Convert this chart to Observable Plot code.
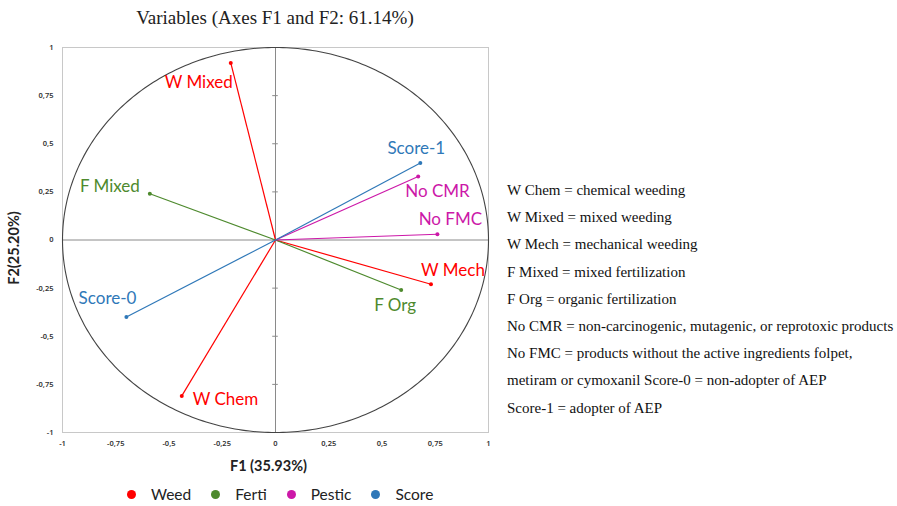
<!DOCTYPE html>
<html>
<head>
<meta charset="utf-8">
<script src="https://cdn.jsdelivr.net/npm/d3@7"></script>
<script src="https://cdn.jsdelivr.net/npm/@observablehq/plot@0.6"></script>
<style>
  html, body { margin: 0; padding: 0; background: #fff; }
  #wrap { position: relative; width: 897px; height: 506px; overflow: hidden; }
  #title { position: absolute; left: 62px; width: 426px; top: 7px; text-align: center;
           font-family: "Liberation Serif", "DejaVu Serif", serif; font-size: 19px; color: #222; }
  #defs { position: absolute; left: 507px; top: 177px; font-family: "Liberation Serif", serif;
          font-size: 15px; line-height: 27.2px; color: #111; white-space: nowrap; }
  #legend { position: absolute; left: 117px; top: 485px; display: flex; justify-content: flex-start;
            font-family: Lato, "Open Sans", sans-serif; font-size: 15.5px; line-height: 18px; color: #222; }
  #legend .item { display: flex; align-items: center; margin: 0 10px; }
  #legend .sw { width: 9px; height: 9px; border-radius: 50%; margin-right: 15px; }
</style>
</head>
<body>
<div id="wrap">
  <div id="chart"></div>
  <div id="title">Variables (Axes F1 and F2: 61.14%)</div>
  <div id="defs"></div>
  <div id="legend"></div>
</div>
<script>
// Variable coordinates on the first two factorial axes
const variables = ["W Chem", "W Mixed", "W Mech", "F Mixed", "F Org", "No CMR", "No FMC", "Score-0", "Score-1"];
const groups    = ["Weed", "Weed", "Weed", "Ferti", "Ferti", "Pestic", "Pestic", "Score", "Score"];
const f1        = [-0.44, -0.21, 0.73, -0.59, 0.59, 0.67, 0.76, -0.70, 0.68];
const f2        = [-0.81, 0.92, -0.23, 0.24, -0.26, 0.33, 0.03, -0.40, 0.40];

const groupNames = ["Weed", "Ferti", "Pestic", "Score"];
const tickValues = [-1, -0.75, -0.5, -0.25, 0, 0.25, 0.5, 0.75, 1];

const definitions = [
  "W Chem = chemical weeding",
  "W Mixed = mixed weeding",
  "W Mech = mechanical weeding",
  "F Mixed = mixed fertilization",
  "F Org = organic fertilization",
  "No CMR = non-carcinogenic, mutagenic, or reprotoxic products",
  "No FMC = products without the active ingredients folpet,",
  "metiram or cymoxanil Score-0 = non-adopter of AEP",
  "Score-1 = adopter of AEP"
];

const palette = {Weed: "#ff0000", Ferti: "#4e8a2e", Pestic: "#cc18a8", Score: "#2f78b8"};

const rows = variables.map((name, i) => ({name, group: groups[i], x: f1[i], y: f2[i]}));

// label placement around each arrow tip (pixels)
const placement = {
  "W Chem":  {dx: 11, dy: 4,   anchor: "start"},
  "W Mixed": {dx: 2,  dy: 20,  anchor: "end"},
  "W Mech":  {dx: 22, dy: -14, anchor: "middle"},
  "F Mixed": {dx: -10, dy: -7, anchor: "end"},
  "F Org":   {dx: -6, dy: 15,  anchor: "middle"},
  "No CMR":  {dx: -13, dy: 15, anchor: "start"},
  "No FMC":  {dx: 13, dy: -15, anchor: "middle"},
  "Score-0": {dx: 10, dy: -18, anchor: "end"},
  "Score-1": {dx: -4, dy: -14, anchor: "middle"}
};

// unit correlation circle
const circle = d3.range(0, 361).map(a => ({x: Math.cos(a * Math.PI / 180), y: Math.sin(a * Math.PI / 180)}));

const fmt = d => String(d).replace(".", ",");
const labelFont = "Lato, 'Open Sans', sans-serif";

const chart = Plot.plot({
  width: 897,
  height: 506,
  marginLeft: 62,
  marginRight: 409,
  marginTop: 47,
  marginBottom: 74,
  style: {background: "#fff"},
  x: {domain: [-1, 1]},
  y: {domain: [-1, 1]},
  color: {domain: groupNames, range: groupNames.map(g => palette[g])},
  marks: [
    Plot.frame({stroke: "#c8c8c8"}),
    Plot.axisX(tickValues, {tickSize: 0, tickPadding: 8, tickFormat: fmt, fontSize: 7.5, fontWeight: 600, fill: "#333", label: null}),
    Plot.axisY(tickValues, {tickSize: 0, tickPadding: 9, tickFormat: fmt, fontSize: 7.5, fontWeight: 600, fill: "#333", label: null}),
    Plot.ruleX([0], {stroke: "#8a8a8a"}),
    Plot.ruleY([0], {stroke: "#8a8a8a"}),
    Plot.ruleY(tickValues, {y: d => d, x1: -0.013, x2: 0.013, stroke: "#8a8a8a"}),
    Plot.line(circle, {x: "x", y: "y", stroke: "#444", strokeWidth: 1.1}),
    Plot.link(rows, {x1: 0, y1: 0, x2: "x", y2: "y", stroke: "group", strokeWidth: 1.2}),
    Plot.dot(rows, {x: "x", y: "y", fill: "group", r: 2}),
    ...rows.map(r => Plot.text([r], {
      x: "x", y: "y", text: "name", fill: palette[r.group],
      dx: placement[r.name].dx, dy: placement[r.name].dy, textAnchor: placement[r.name].anchor,
      fontSize: 17, fontFamily: labelFont
    })),
    Plot.text(["F1 (35.93%)"], {frameAnchor: "bottom", textAnchor: "middle", dx: -7, dy: 38, fontSize: 14.5, fontWeight: "bold", fill: "#222", fontFamily: labelFont}),
    Plot.text(["F2(25.20%)"], {frameAnchor: "left", textAnchor: "middle", dx: -48, dy: 8, rotate: -90, fontSize: 14.5, fontWeight: "bold", fill: "#222", fontFamily: labelFont})
  ]
});
document.getElementById("chart").appendChild(chart);

document.getElementById("defs").innerHTML = definitions.map(t => `<div>${t}</div>`).join("");
document.getElementById("legend").innerHTML = groupNames.map(g =>
  `<div class="item"><span class="sw" style="background:${palette[g]}"></span><span>${g}</span></div>`).join("");
</script>
</body>
</html>
